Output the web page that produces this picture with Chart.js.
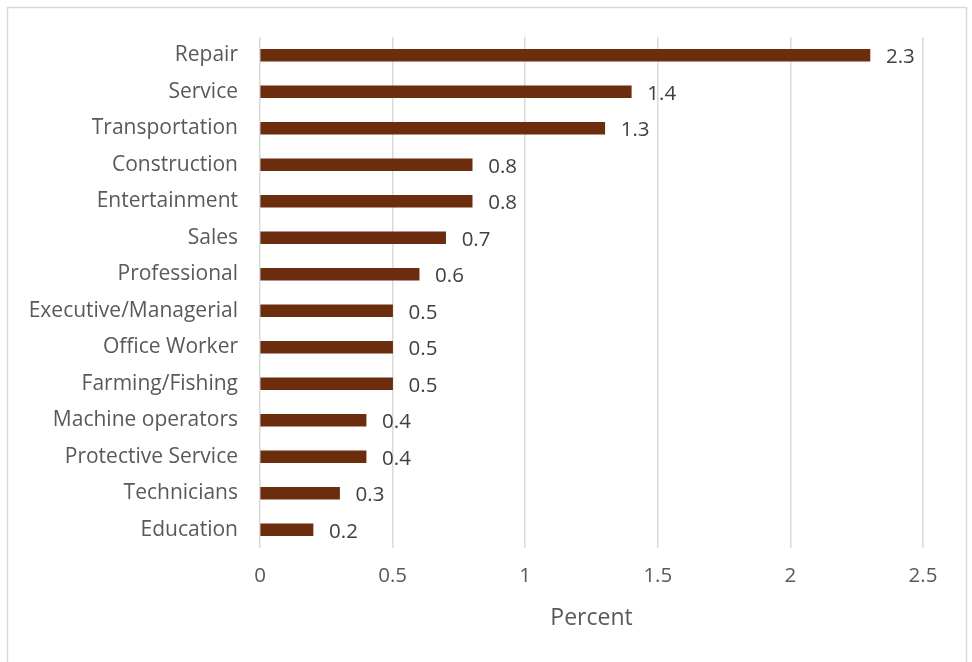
<!DOCTYPE html>
<html>
<head>
<meta charset="utf-8">
<title>Percent by occupation</title>
<script src="https://cdn.jsdelivr.net/npm/chart.js@4.4.1/dist/chart.umd.min.js"></script>
<style>
  html, body { margin: 0; padding: 0; background: #fff; }
  #wrap { width: 972px; height: 662px; }
</style>
</head>
<body>
<div id="wrap"><canvas id="chart" width="972" height="662"></canvas></div>
<script>
const occupations = [
  "Repair", "Service", "Transportation", "Construction", "Entertainment",
  "Sales", "Professional", "Executive/Managerial", "Office Worker",
  "Farming/Fishing", "Machine operators", "Protective Service",
  "Technicians", "Education"
];
const percents = [2.3, 1.4, 1.3, 0.8, 0.8, 0.7, 0.6, 0.5, 0.5, 0.5, 0.4, 0.4, 0.3, 0.2];
const axisMax = 2.5;
const axisStep = 0.5;

const FONT = "'Open Sans', Lato, sans-serif";

// light frame around the whole chart
const framePlugin = {
  id: "frame",
  beforeDraw(chart) {
    const ctx = chart.ctx;
    ctx.save();
    ctx.strokeStyle = "#d9d9d9";
    ctx.lineWidth = 1.5;
    ctx.strokeRect(7.5, 7.5, 959, 700);
    ctx.restore();
  }
};

// numbers written just past the end of each bar
const valueLabels = {
  id: "valueLabels",
  afterDatasetsDraw(chart) {
    const ctx = chart.ctx;
    const meta = chart.getDatasetMeta(0);
    ctx.save();
    ctx.font = "20.5px " + FONT;
    ctx.fillStyle = "#404040";
    ctx.textAlign = "left";
    ctx.textBaseline = "middle";
    meta.data.forEach((bar, i) => {
      ctx.fillText(String(percents[i]), bar.x + 16, bar.y + 2);
    });
    ctx.restore();
  }
};

new Chart(document.getElementById("chart"), {
  type: "bar",
  data: {
    labels: occupations,
    datasets: [{
      data: percents,
      backgroundColor: "#6c2c0e",
      barThickness: 12
    }]
  },
  options: {
    indexAxis: "y",
    responsive: false,
    animation: false,
    layout: { padding: { top: 37, right: 49, left: 0, bottom: 30 } },
    plugins: {
      legend: { display: false },
      tooltip: { enabled: false }
    },
    scales: {
      x: {
        min: 0,
        max: axisMax,
        ticks: {
          stepSize: axisStep,
          color: "#595959",
          font: { family: FONT, size: 20.5 },
          padding: 16,
          callback: (v) => String(Math.round(v * 10) / 10)
        },
        grid: { color: "#d9d9d9", lineWidth: 1.5, drawTicks: false },
        border: { display: false },
        title: {
          display: true,
          text: "Percent",
          color: "#595959",
          font: { family: FONT, size: 23 },
          padding: { top: 0, bottom: 0 }
        },
        afterFit(scale) { scale.height = 84; }
      },
      y: {
        ticks: {
          color: "#595959",
          font: { family: FONT, size: 21 },
          padding: 22
        },
        grid: { display: false, drawTicks: false },
        border: { display: false },
        afterFit(scale) { scale.width = 260; }
      }
    }
  },
  plugins: [framePlugin, valueLabels]
});
</script>
</body>
</html>
